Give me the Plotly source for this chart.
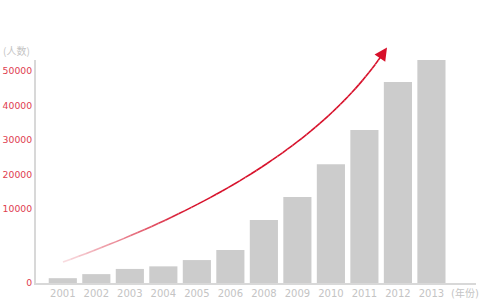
import plotly.graph_objects as go

# ---- data ----
years = ["2001", "2002", "2003", "2004", "2005", "2006",
         "2008", "2009", "2010", "2011", "2012", "2013"]
people = [650, 1200, 1900, 2250, 3100, 4450, 8500, 13500, 23000, 32900, 46800, 53200]
y_tick_values = [0, 10000, 20000, 30000, 40000, 50000]
x_unit_label = "(年份)"
y_unit_label = "(人数)"

# ---- broken (piecewise) y-scale as in the reference ----
LOW_SPAN = 74.0    # display units for 0..10000
HIGH_STEP = 34.5   # display units per 10000 above 10000


def disp(v):
    if v <= 10000:
        return v / 10000 * LOW_SPAN
    return LOW_SPAN + (v - 10000) / 10000 * HIGH_STEP


RED = "#d7102a"
GRAY_TXT = "#c4c4c4"
BAR = "#cccccc"
AXIS = "#d8d8d8"

fig = go.Figure()
fig.add_trace(go.Bar(
    x=years, y=[disp(v) for v in people],
    marker=dict(color=BAR, line=dict(width=0)),
    hovertext=[str(v) for v in people], hoverinfo="text",
))

W, H = 479, 300
ML, MR, MT, MB = 36, 3, 60, 17
PW, PH = W - ML - MR, H - MT - MB


def px2paper(px, py):
    return (px - ML) / PW, (H - MB - py) / PH


# decorative growth arrow (quadratic bezier in pixel space)
P0, C, P3 = (63, 262), (300, 177), (384, 52)
N = 60
pts = []
for i in range(N + 1):
    t = i / N
    x = (1 - t) ** 2 * P0[0] + 2 * t * (1 - t) * C[0] + t ** 2 * P3[0]
    y = (1 - t) ** 2 * P0[1] + 2 * t * (1 - t) * C[1] + t ** 2 * P3[1]
    pts.append(px2paper(x, y))
shapes = []
for i in range(N):
    t = i / N
    op = min(1.0, 0.15 + t * 3.0)
    (x0, y0), (x1, y1) = pts[i], pts[i + 1]
    shapes.append(dict(type="line", xref="paper", yref="paper",
                       x0=x0, y0=y0, x1=x1, y1=y1,
                       line=dict(color=RED, width=1.6), opacity=op))

tipx, tipy = px2paper(387, 47.5)
annotations = [
    dict(x=tipx, y=tipy, xref="paper", yref="paper", ax=-8, ay=12,
         showarrow=True, arrowhead=2, arrowsize=1.6, arrowwidth=1.6,
         arrowcolor=RED, text=""),
    dict(x=px2paper(1, 0)[0], y=px2paper(0, 50)[1], xref="paper", yref="paper",
         xanchor="left", yanchor="middle", showarrow=False, text=y_unit_label,
         font=dict(family="Noto Sans CJK SC, DejaVu Sans", size=10, color=GRAY_TXT)),
]

fig.update_layout(
    width=W, height=H,
    margin=dict(l=ML, r=MR, t=MT, b=MB, pad=0, autoexpand=False),
    paper_bgcolor="white", plot_bgcolor="white",
    bargap=0.16, showlegend=False,
    shapes=shapes, annotations=annotations,
    font=dict(family="DejaVu Sans, Noto Sans CJK SC", size=10),
)
fig.update_xaxes(
    type="category", categoryorder="array", categoryarray=years + [x_unit_label],
    tickvals=years + [x_unit_label], ticktext=years + [x_unit_label],
    range=[-0.8, 12.33], showgrid=False, zeroline=False, automargin=False,
    showline=True, linecolor=AXIS, linewidth=2, ticks="",
    tickfont=dict(color=GRAY_TXT, size=10, family="DejaVu Sans, Noto Sans CJK SC"),
)
fig.update_yaxes(
    range=[0, PH], showgrid=False, zeroline=False, automargin=False,
    tickvals=[disp(v) for v in y_tick_values],
    ticktext=[str(v) for v in y_tick_values],
    showline=True, linecolor=AXIS, linewidth=2, ticks="",
    ticklabelstandoff=0,
    tickfont=dict(color="#e0404f", size=9.3, family="DejaVu Sans"),
)

fig.write_html("out.html")
